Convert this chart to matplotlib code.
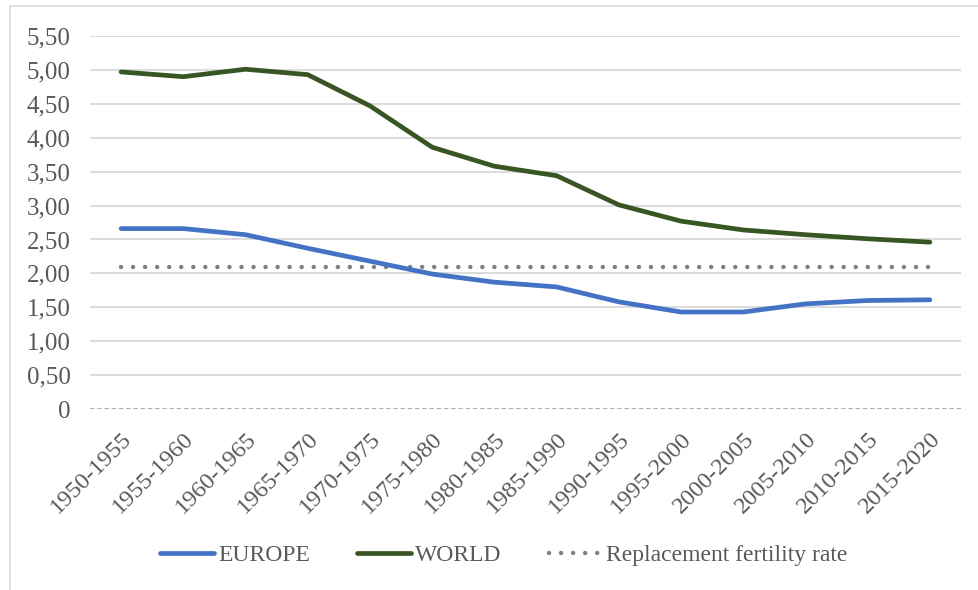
import matplotlib
matplotlib.use("Agg")
import matplotlib.pyplot as plt
from matplotlib.lines import Line2D
from matplotlib.patches import Rectangle
import numpy as np

periods = ["1950-1955", "1955-1960", "1960-1965", "1965-1970", "1970-1975",
           "1975-1980", "1980-1985", "1985-1990", "1990-1995", "1995-2000",
           "2000-2005", "2005-2010", "2010-2015", "2015-2020"]
europe = [2.66, 2.66, 2.57, 2.37, 2.18, 1.99, 1.87, 1.80, 1.58, 1.43, 1.43, 1.55, 1.60, 1.61]
world = [4.97, 4.90, 5.01, 4.93, 4.47, 3.86, 3.58, 3.44, 3.01, 2.77, 2.64, 2.57, 2.51, 2.46]
replacement = [2.10] * 14
yticks = [0, 0.5, 1.0, 1.5, 2.0, 2.5, 3.0, 3.5, 4.0, 4.5, 5.0, 5.5]
ytick_labels = ["0", "0,50", "1,00", "1,50", "2,00", "2,50", "3,00", "3,50", "4,00", "4,50", "5,00", "5,50"]

plt.rcParams['font.family'] = ['Liberation Serif', 'DejaVu Serif']
txt = "#595959"

fig = plt.figure(figsize=(9.79, 5.90), dpi=100)
W, H = 979, 590
ax = fig.add_axes([90 / W, 1 - 409 / H, (961 - 90) / W, (409 - 36) / H])

x = np.arange(len(periods))
dot_style = (0, (0.01, 2.7))
ax.plot(x, replacement, color="#7F7F7F", lw=3.2, linestyle=dot_style,
        dash_capstyle="round", zorder=3)
ax.plot(x, europe, color="#4472C4", lw=3.4, solid_capstyle="round", zorder=4)
ax.plot(x, world, color="#375623", lw=3.4, solid_capstyle="round", zorder=4)

ax.set_xlim(-0.5, len(periods) - 0.5)
ax.set_ylim(0, 5.5)
ax.set_yticks(yticks)
ax.set_yticklabels(ytick_labels, fontsize=18, color=txt)
ax.set_xticks(x)
ax.set_xticklabels(periods, rotation=45, ha="right", rotation_mode="anchor",
                   fontsize=17.5, color=txt)
ax.tick_params(axis="both", length=0)
ax.tick_params(axis="y", pad=14)
ax.tick_params(axis="x", pad=14)
for yv in yticks[1:]:
    ax.axhline(yv, color="#D9D9D9", lw=1.3, zorder=1)
ax.axhline(0, color="#A6A6A6", lw=1.3, linestyle=(0, (2.5, 1.5)), zorder=2)
for s in ax.spines.values():
    s.set_visible(False)

# outer chart border
fig.patches.append(Rectangle((10 / W, -0.05), 1.2, 1 - 6 / H + 0.05,
                             transform=fig.transFigure, fill=False,
                             edgecolor="#D9D9D9", lw=1.2))

handles = [Line2D([], [], color="#4472C4", lw=3.4, solid_capstyle="round"),
           Line2D([], [], color="#375623", lw=3.4, solid_capstyle="round"),
           Line2D([], [], color="#7F7F7F", lw=3.2, linestyle=dot_style,
                  dash_capstyle="round")]
leg = fig.legend(handles, ["EUROPE", "WORLD", "Replacement fertility rate"],
                 loc="center", bbox_to_anchor=(504 / W, 1 - 555 / H), ncol=3,
                 frameon=False, fontsize=17, handlelength=2.3, handletextpad=0.15,
                 columnspacing=2.0, labelcolor=txt)

fig.savefig("out.png", dpi=100)
